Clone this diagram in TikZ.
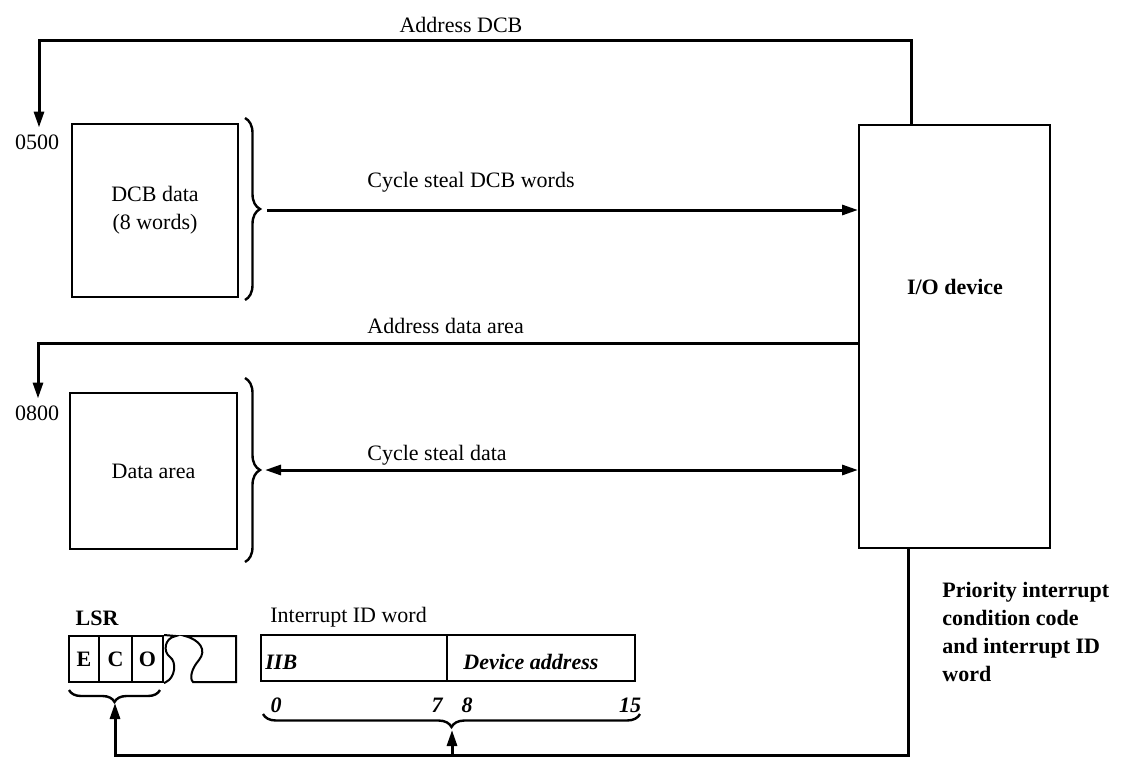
\documentclass[tikz,border=0pt]{standalone}
\usepackage{fontspec}
\setmainfont{Liberation Serif}
\usetikzlibrary{arrows.meta,decorations.pathreplacing}
\begin{document}
\begin{tikzpicture}[x=0.5pt, y=-0.5pt, >={Triangle[length=8pt,width=5pt]},
  font=\fontsize{11}{14}\selectfont,
  box/.style={draw, line width=1pt, inner sep=0pt},
  link/.style={line width=1.5pt},
  curly/.style={decorate, line width=1.2pt, decoration={brace, amplitude=#1}}]
\useasboundingbox (0,0) rectangle (1127,771);
% memory blocks
\node[box, minimum width=83pt, minimum height=86.5pt, align=center] (dcb) at (155,210.5) {DCB data\\(8 words)};
\node[box, minimum width=83.5pt, minimum height=78pt] (area) at (153.5,471) {Data area};
\node (a500) at (37,142) {0500};
\node (a800) at (37,413) {0800};
\node[box, minimum width=95.5pt, minimum height=211.5pt] (io) at (954.5,336.5) {};
\node[font=\fontsize{11}{14}\selectfont\bfseries] (iolbl) at (955,287) {I/O device};
% braces
\draw[curly=7.5pt] (245,118) -- (245,300);
\draw[curly=7.5pt] (245,378) -- (245,562);
\coordinate (tip1) at (267,210);
\coordinate (tip2) at (265,470);
% address lines
\coordinate (topR) at (911,40);
\coordinate (bendA) at (39,40);
\coordinate (bendB) at (38,343);
\draw[link,->] (io.north -| topR) -- (topR) -- (bendA) -- (bendA |- a500.north);
\draw[link,->] (io.west |- bendB) -- (bendB) -- (bendB |- a800.north);
\draw[link,->] (tip1) -- (tip1 -| io.west);
\draw[link,<->] (tip2) -- (tip2 -| io.west);
\node (lbladdr) at (461,25) {Address DCB};
\node[anchor=west, inner sep=0pt] (lblcsw) at (367,182) {Cycle steal DCB words};
\node[anchor=west, inner sep=0pt] (lblarea) at (367,326) {Address data area};
\node[anchor=west, inner sep=0pt] (lblcsd) at (367,455) {Cycle steal data};
% LSR register
\node[font=\fontsize{11}{14}\selectfont\bfseries] (lsr) at (97,618) {LSR};
\node[box, minimum width=15pt, minimum height=23pt, font=\fontsize{11}{14}\selectfont\bfseries] (e) at (84,659) {E};
\node[box, minimum width=16.5pt, minimum height=23pt, font=\fontsize{11}{14}\selectfont\bfseries] (c) at (115.5,659) {C};
\node[box, minimum width=15.5pt, minimum height=23pt, font=\fontsize{11}{14}\selectfont\bfseries] (o) at (147.5,659) {O};
\draw[line width=1pt] (o.north east) -- (176,636) .. controls (164,638) and (163,652) .. (170,657)
  .. controls (177,662) and (175,678) .. (166,682) -- (o.south east);
\draw[line width=1pt] (185,636) .. controls (200,640) and (207,650) .. (199,660)
  .. controls (192,668) and (189,678) .. (193,682) -- (236,682) -- (236,636) -- cycle;
\draw[curly=6pt] (160,690) -- (69,690);
\coordinate (lsrtip) at (115,703);
% interrupt ID word
\node[anchor=west, inner sep=0pt] (lblword) at (270,617) {Interrupt ID word};
\node[box, minimum width=93pt, minimum height=23pt] (iib) at (354,658) {};
\node[box, minimum width=94pt, minimum height=23pt] (dev) at (541,658) {};
\node[anchor=west, inner sep=0pt, font=\fontsize{11}{14}\selectfont\bfseries\itshape] (iibtxt) at (265,662) {IIB};
\node[anchor=west, inner sep=0pt, font=\fontsize{11}{14}\selectfont\bfseries\itshape] (devtxt) at (463,662) {Device address};
\foreach \n/\x in {0/276, 7/437, 8/467, 15/630}
  \node[font=\fontsize{11}{14}\selectfont\bfseries\itshape] (bit\n) at (\x,705) {\n};
\draw[curly=6.5pt] (640,714) -- (263,714);
\coordinate (wordtip) at (452,730);
% interrupt return path
\coordinate (botR) at (908,755);
\coordinate (botL) at (115,755);
\draw[link,->] (io.south -| botR) -- (botR) -- (botL) -- (lsrtip);
\draw[link,->] (wordtip |- botL) -- (wordtip);
\node[anchor=north west, inner sep=0pt, align=left, font=\fontsize{11}{14}\selectfont\bfseries] (prio) at (942,582) {Priority interrupt\\condition code\\and interrupt ID\\word};
\end{tikzpicture}
\end{document}
